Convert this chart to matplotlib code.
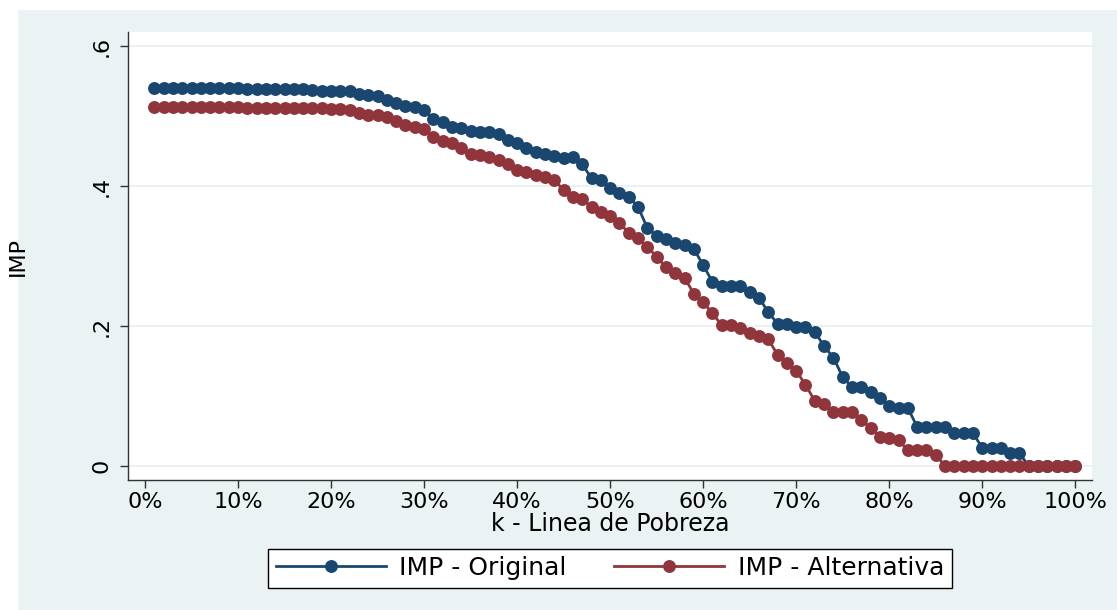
import matplotlib.pyplot as plt
from matplotlib.patches import Rectangle
import numpy as np

plt.rcParams['font.family'] = ['DejaVu Sans']

# k - linea de pobreza (1% .. 100%)
k = np.arange(1, 101)

imp_original = [
    0.540, 0.540, 0.540, 0.540, 0.540, 0.540, 0.540, 0.540, 0.540, 0.540,
    0.539, 0.539, 0.539, 0.539, 0.539, 0.538, 0.538, 0.537, 0.536, 0.536,
    0.536, 0.536, 0.532, 0.530, 0.529, 0.523, 0.518, 0.514, 0.513, 0.509,
    0.496, 0.492, 0.484, 0.483, 0.479, 0.477, 0.477, 0.474, 0.466, 0.461,
    0.454, 0.449, 0.446, 0.443, 0.440, 0.441, 0.431, 0.411, 0.409, 0.397,
    0.390, 0.385, 0.370, 0.340, 0.329, 0.324, 0.319, 0.316, 0.310, 0.287,
    0.263, 0.257, 0.257, 0.257, 0.249, 0.240, 0.220, 0.203, 0.203, 0.199,
    0.199, 0.192, 0.171, 0.155, 0.127, 0.113, 0.113, 0.106, 0.097, 0.086,
    0.083, 0.083, 0.056, 0.056, 0.056, 0.056, 0.047, 0.047, 0.047, 0.026,
    0.026, 0.026, 0.018, 0.018, 0.0, 0.0, 0.0, 0.0, 0.0, 0.0,
]

imp_alternativa = [
    0.513, 0.513, 0.513, 0.513, 0.513, 0.513, 0.513, 0.513, 0.513, 0.513,
    0.512, 0.512, 0.512, 0.512, 0.512, 0.512, 0.511, 0.511, 0.511, 0.510,
    0.510, 0.508, 0.505, 0.501, 0.501, 0.498, 0.493, 0.487, 0.484, 0.481,
    0.470, 0.464, 0.462, 0.455, 0.446, 0.444, 0.442, 0.437, 0.431, 0.423,
    0.420, 0.416, 0.413, 0.409, 0.394, 0.385, 0.381, 0.370, 0.363, 0.357,
    0.347, 0.333, 0.326, 0.313, 0.299, 0.284, 0.276, 0.269, 0.246, 0.234,
    0.218, 0.201, 0.201, 0.197, 0.190, 0.186, 0.181, 0.159, 0.147, 0.136,
    0.116, 0.093, 0.089, 0.077, 0.077, 0.077, 0.066, 0.055, 0.041, 0.040,
    0.037, 0.023, 0.023, 0.023, 0.016, 0.0, 0.0, 0.0, 0.0, 0.0,
    0.0, 0.0, 0.0, 0.0, 0.0, 0.0, 0.0, 0.0, 0.0, 0.0,
]

y_ticks = [0, 0.2, 0.4, 0.6]
y_ticklabels = ['0', '.2', '.4', '.6']
x_ticks = list(range(0, 101, 10))
x_ticklabels = [f'{t}%' for t in x_ticks]

blue = '#1a476f'
red = '#90353b'
panel = '#eaf2f3'

fig = plt.figure(figsize=(11.17, 6.10), dpi=100)
fig.patch.set_facecolor('white')
# Stata-style light background panel, white strip on the left and top
fig.patches.append(Rectangle((18 / 1117, 0), 1 - 18 / 1117, 1 - 10 / 610,
                             transform=fig.transFigure, facecolor=panel,
                             edgecolor='none', zorder=-10))

ax = fig.add_axes([128 / 1117, 1 - 480 / 610, (1092 - 128) / 1117, (480 - 32) / 610])
ax.set_facecolor('white')

ax.plot(k, imp_original, '-o', color=blue, lw=2, ms=9.3, mew=0,
        label='IMP - Original', zorder=3)
ax.plot(k, imp_alternativa, '-o', color=red, lw=2, ms=9.3, mew=0,
        label='IMP - Alternativa', zorder=4)

ax.set_xlim(-1.83, 101.8)
ax.set_ylim(-0.02, 0.62)

ax.set_yticks(y_ticks)
ax.set_yticklabels(y_ticklabels, rotation=90, va='center')
ax.set_xticks(x_ticks)
ax.set_xticklabels(x_ticklabels)
ax.tick_params(axis='both', labelsize=16, direction='out', length=6,
               width=1, color='#333333', labelcolor='black')
ax.tick_params(axis='y', pad=6)
ax.tick_params(axis='x', pad=3)

ax.yaxis.grid(True, color=panel, lw=1.5)
ax.set_axisbelow(True)
for side in ['top', 'right']:
    ax.spines[side].set_visible(False)
for side in ['left', 'bottom']:
    ax.spines[side].set_color('#333333')
    ax.spines[side].set_linewidth(1)

ax.set_ylabel('IMP', fontsize=16)
ax.yaxis.set_label_coords(-0.104, 0.5)
ax.set_xlabel('k - Linea de Pobreza', fontsize=17)
ax.xaxis.set_label_coords(0.5, -0.072)

leg = fig.legend(loc='center', bbox_to_anchor=(610 / 1117, 1 - 568 / 610),
                 ncol=2, fontsize=18, frameon=True, fancybox=False,
                 edgecolor='black', facecolor='white', framealpha=1,
                 handlelength=4.4, columnspacing=1.9, borderpad=0.3,
                 handletextpad=0.55, markerscale=1.0, borderaxespad=0)
leg.get_frame().set_linewidth(1)

fig.savefig('out.png', dpi=100, facecolor=fig.get_facecolor())
